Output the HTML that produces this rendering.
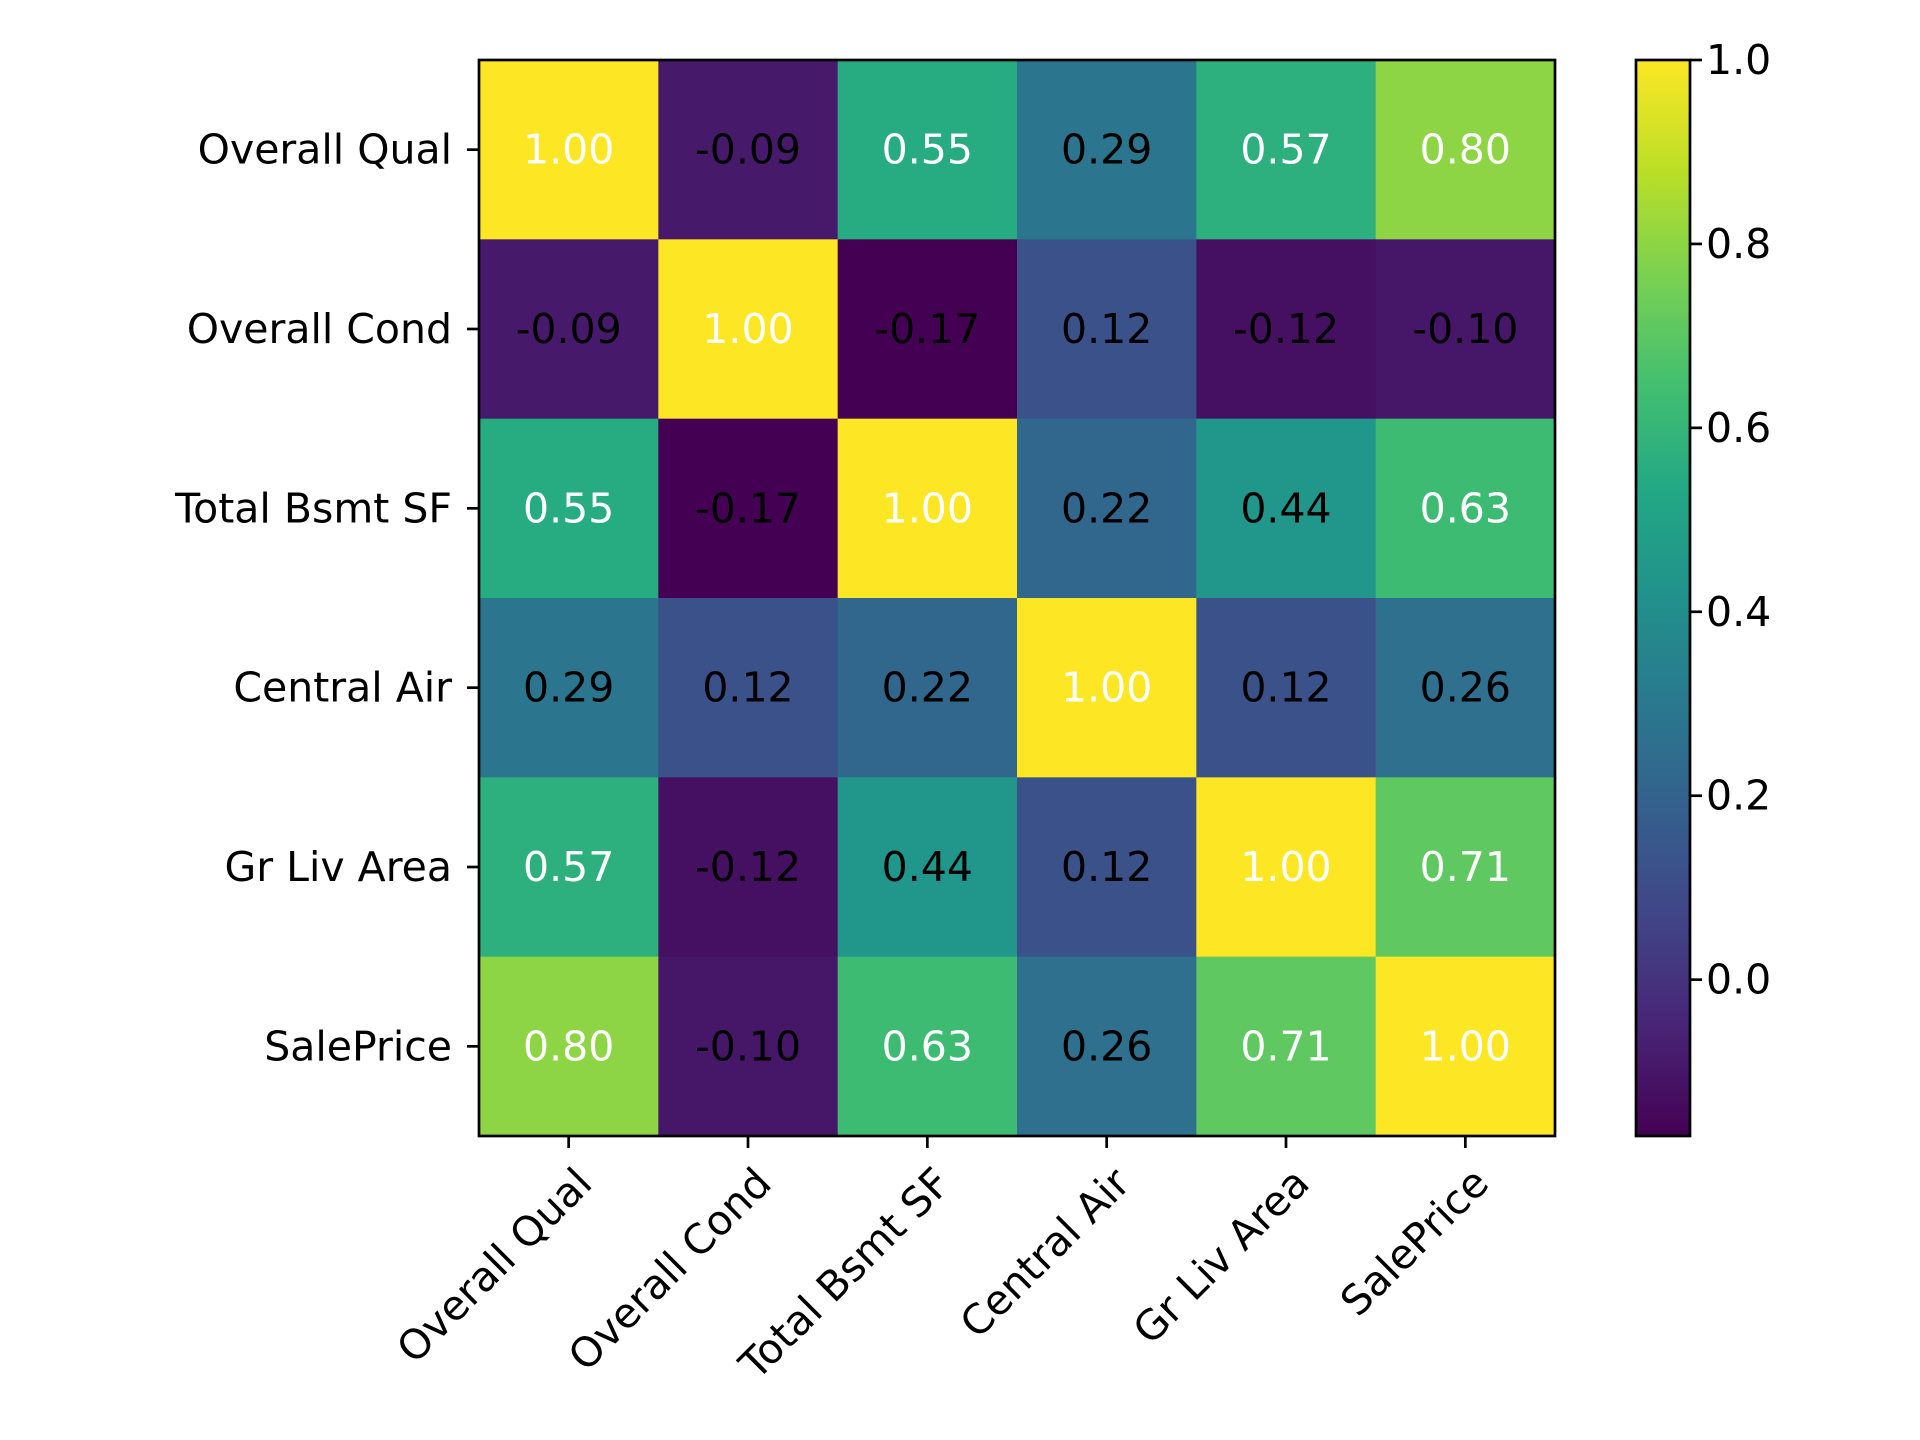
<!DOCTYPE html>
<html><head><meta charset="utf-8"><style>
html,body{margin:0;padding:0;background:#fff;}
svg{display:block;font-family:"DejaVu Sans","Liberation Sans",sans-serif;}
</style></head><body>
<svg id="chart" width="1920" height="1440" viewBox="0 0 1920 1440" xmlns="http://www.w3.org/2000/svg">
<defs>
<linearGradient id="viridis" x1="0" y1="1" x2="0" y2="0">
<stop offset="0" stop-color="#440154"/><stop offset="0.1" stop-color="#482475"/><stop offset="0.2" stop-color="#414487"/><stop offset="0.3" stop-color="#355f8d"/><stop offset="0.4" stop-color="#2a788e"/><stop offset="0.5" stop-color="#21918c"/><stop offset="0.6" stop-color="#22a884"/><stop offset="0.7" stop-color="#44bf70"/><stop offset="0.8" stop-color="#7ad151"/><stop offset="0.9" stop-color="#bddf26"/><stop offset="1" stop-color="#fde725"/>
</linearGradient>
</defs>
<g id="cells"></g>
<g id="axes"></g>
</svg>
<script>
const labels = ["Overall Qual","Overall Cond","Total Bsmt SF","Central Air","Gr Liv Area","SalePrice"];
const row0 = [1.00,-0.09,0.55,0.29,0.57,0.80];
const row1 = [-0.09,1.00,-0.17,0.12,-0.12,-0.10];
const row2 = [0.55,-0.17,1.00,0.22,0.44,0.63];
const row3 = [0.29,0.12,0.22,1.00,0.12,0.26];
const row4 = [0.57,-0.12,0.44,0.12,1.00,0.71];
const row5 = [0.80,-0.10,0.63,0.26,0.71,1.00];
const matrix = [row0,row1,row2,row3,row4,row5];
const cbTicks = [0.0,0.2,0.4,0.6,0.8,1.0];

const NS="http://www.w3.org/2000/svg";
const L=479,R=1555,T=60,B=1136;
const FS=41;
const n=labels.length, cw=(R-L)/n, ch=(B-T)/n;
let vmin=Infinity,vmax=-Infinity;
matrix.forEach(r=>r.forEach(v=>{vmin=Math.min(vmin,v);vmax=Math.max(vmax,v);}));
const stops=["#440154","#482475","#414487","#355f8d","#2a788e","#21918c","#22a884","#44bf70","#7ad151","#bddf26","#fde725"];
function hex(h){return [1,3,5].map(i=>parseInt(h.substr(i,2),16));}
function viridis(t){t=Math.max(0,Math.min(1,t));const p=t*10,i=Math.min(9,Math.floor(p)),f=p-i;const a=hex(stops[i]),b=hex(stops[i+1]);return `rgb(${a.map((c,k)=>Math.round(c+(b[k]-c)*f)).join(',')})`;}
function el(tag,attrs,parent){const e=document.createElementNS(NS,tag);for(const k in attrs)e.setAttribute(k,attrs[k]);parent.appendChild(e);return e;}
const xPos=i=>L+cw*i, yPos=i=>T+ch*i;
const cells=document.getElementById('cells'), axes=document.getElementById('axes');
matrix.forEach((row,r)=>row.forEach((v,c)=>{
  const rect=el('rect',{x:xPos(c),y:yPos(r),width:cw+0.5,height:ch+0.5,fill:viridis((v-vmin)/(vmax-vmin))},cells);
  
  
  const t=el('text',{x:xPos(c)+cw/2,y:yPos(r)+ch/2,'text-anchor':'middle','dominant-baseline':'central','font-size':FS,fill:v>0.5?'#fff':'#000'},cells);
  t.textContent=v.toFixed(2);
  
  
}));
const frame=el('rect',{x:L,y:T,width:R-L,height:B-T,fill:'none',stroke:'#000','stroke-width':2.7},axes);


labels.forEach((lab,i)=>{
  const cy=yPos(i)+ch/2, cx=xPos(i)+cw/2;
  el('line',{x1:L-12,x2:L,y1:cy,y2:cy,stroke:'#000','stroke-width':2.7},axes);
  const yl=el('text',{x:L-27,y:cy,'text-anchor':'end','dominant-baseline':'central','font-size':FS},axes);
  yl.textContent=lab;
  
  
  el('line',{x1:cx,x2:cx,y1:B,y2:B+12,stroke:'#000','stroke-width':2.7},axes);
  const ax=cx+4, ay=B+28;
  const xl=el('text',{x:ax,y:ay,'text-anchor':'end','dominant-baseline':'hanging','font-size':FS,transform:`rotate(-45 ${ax} ${ay})`},axes);
  xl.textContent=lab;
  
  
});
// colorbar
const CL=1636,CR=1690;
const cbY=v=>B-(v-vmin)/(vmax-vmin)*(B-T);
const cb=el('rect',{x:CL,y:T,width:CR-CL,height:B-T,fill:'url(#viridis)',stroke:'#000','stroke-width':2.7},axes);


cbTicks.forEach(v=>{
  const y=cbY(v);
  el('line',{x1:CR,x2:CR+12,y1:y,y2:y,stroke:'#000','stroke-width':2.7},axes);
  const t=el('text',{x:CR+16,y:y,'dominant-baseline':'central','font-size':FS},axes);
  t.textContent=v.toFixed(1);
  
  
});
</script>
</body></html>
